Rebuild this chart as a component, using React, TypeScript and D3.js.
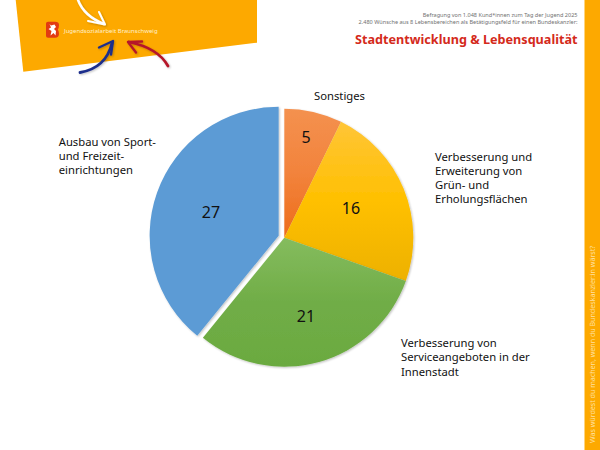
import React from "react";
import * as d3 from "d3";

const categories = ["Sonstiges", "Grün", "Service", "Sport"];
const values = [5, 16, 21, 27];
const topColors = ["#F4914F", "#FFC537", "#85BC5E", "#5B9BD5"];
const midColors = ["#F2833C", "#FFC000", "#70AD47", "#5B9BD5"];
const bottomColors = ["#ED6C1A", "#EDB104", "#6BAA40", "#5B9BD5"];
const categoryLabels = [
  ["Sonstiges"],
  ["Verbesserung und", "Erweiterung von", "Grün- und", "Erholungsflächen"],
  ["Verbesserung von", "Serviceangeboten in der", "Innenstadt"],
  ["Ausbau von Sport-", "und Freizeit-", "einrichtungen"],
];
const headerLines = [
  "Befragung von 1.048 Kund*innen zum Tag der Jugend 2025",
  "2.480 Wünsche aus 8 Lebensbereichen als Betätigungsfeld für einen Bundeskanzler:",
];
const title = "Stadtentwicklung & Lebensqualität";
const sideText = "Was würdest du machen, wenn du Bundeskanzler:in wärst?";
const brand = "Jugendsozialarbeit Braunschweig";

const W = 600, H = 450;
const cx = 284.3, cy = 237.7, R = 129;
const orange = "#FDA900";
const labelPos: [number, number][] = [[314, 100], [435, 160.5], [401, 347.3], [58.7, 145.5]];
const valuePos: [number, number][] = [[306, 143], [351, 214], [306, 322], [211, 218]];
const font = "'Noto Sans', sans-serif";

export default function App() {
  const pie = d3.pie<number>().sort(null).value((d) => d);
  const arc = d3.arc<d3.PieArcDatum<number>>().innerRadius(0).outerRadius(R);
  const arcs = pie(values);
  return (
    <svg width={W} height={H} viewBox={`0 0 ${W} ${H}`} style={{ position: "absolute", left: 0, top: 0, background: "#fff" }}>
      <defs>
        {categories.map((c, i) => (
          <linearGradient key={c} id={`g${i}`} x1="0" y1="0" x2="0" y2="1">
            <stop offset="0" stopColor={topColors[i]} />
            <stop offset="0.5" stopColor={midColors[i]} />
            <stop offset="1" stopColor={bottomColors[i]} />
          </linearGradient>
        ))}
        <filter id="soft" x="-20%" y="-20%" width="140%" height="140%">
          <feGaussianBlur in="SourceAlpha" stdDeviation="1.2" />
          <feOffset dx="0.5" dy="0.5" />
          <feComponentTransfer><feFuncA type="linear" slope="0.25" /></feComponentTransfer>
          <feMerge><feMergeNode /><feMergeNode in="SourceGraphic" /></feMerge>
        </filter>
      </defs>

      <polygon points="15.7,0 257,0 257,42.7 23.3,71.7" fill={orange} />
      <rect x={584.5} y={0} width={15.5} height={H} fill={orange} />

      <g fill="none" strokeLinecap="round" strokeLinejoin="round" filter="url(#soft)">
        <path d="M78,0 Q84,16 104,24" stroke="#fff" strokeWidth={2.5} />
        <path d="M99,12 L105,24.5 L88,21" stroke="#fff" strokeWidth={2} />
        <path d="M80,72.5 Q106,68 112,43" stroke="#1F2F8C" strokeWidth={2.8} />
        <path d="M99,47.5 L113,41 L111,54.5" stroke="#1F2F8C" strokeWidth={2.4} />
        <path d="M168,66 Q158,48 129,42" stroke="#B5192B" strokeWidth={2.8} />
        <path d="M142,41.5 L128,42 L136,52.5" stroke="#B5192B" strokeWidth={2.4} />
      </g>
      <path d="M46,23.5 Q46,21.7 48,21.7 L55,21.7 Q59,21.7 59,25 Q59,28 57.8,29.5 Q59,31 59,34 Q59,37.7 55,37.7 L48,37.7 Q46,37.7 46,36 Z" fill="#E23B12" />
      <path d="M49.5,24 L51,25.5 L54.5,24.5 L56,27 L54,29 L56,31 L55.5,35.5 L53.5,33 L50.5,35.5 L51.5,31 L48.5,29 L51,27.5 Z" fill="#fff" />
      <text x={64} y={32.8} fontFamily={font} fontSize={6} fill="#FFF0CC">{brand}</text>

      <g fontFamily={font} fontSize={5.55} fill="#707070" textAnchor="end">
        {headerLines.map((l, i) => (
          <text key={l} x={577.5} y={16.5 + i * 7}>{l}</text>
        ))}
      </g>
      <text x={577.5} y={44} textAnchor="end" fontFamily={font} fontSize={12.65} fontWeight={700} fill="#D42A1B">{title}</text>
      <text transform="translate(595,443) rotate(-90)" fontFamily={font} fontSize={7.1} fill="#FFE0A0">{sideText}</text>

      <g transform={`translate(${cx},${cy})`}>
        {arcs.map((a, i) => {
          const blown = i === values.length - 1;
          const [mx, my] = arc.centroid(a);
          const len = Math.hypot(mx, my);
          const dx = blown ? (mx / len) * 6 : 0;
          const dy = blown ? (my / len) * 6 : 0;
          return (
            <path
              key={categories[i]}
              d={arc(a) ?? ""}
              transform={`translate(${dx},${dy})`}
              fill={`url(#g${i})`}
              filter="url(#soft)"
            />
          );
        })}
      </g>

      <g fontFamily={font} fontSize={16} fill="#111" textAnchor="middle">
        {values.map((v, i) => (
          <text key={categories[i]} x={valuePos[i][0]} y={valuePos[i][1]}>{v}</text>
        ))}
      </g>
      <g fontFamily={font} fontSize={11.25} fill="#111">
        {categoryLabels.map((lines, i) => (
          <text key={categories[i]} x={labelPos[i][0]} y={labelPos[i][1]}>
            {lines.map((l, j) => (
              <tspan key={l} x={labelPos[i][0]} dy={j === 0 ? 0 : 14.1}>{l}</tspan>
            ))}
          </text>
        ))}
      </g>
    </svg>
  );
}
